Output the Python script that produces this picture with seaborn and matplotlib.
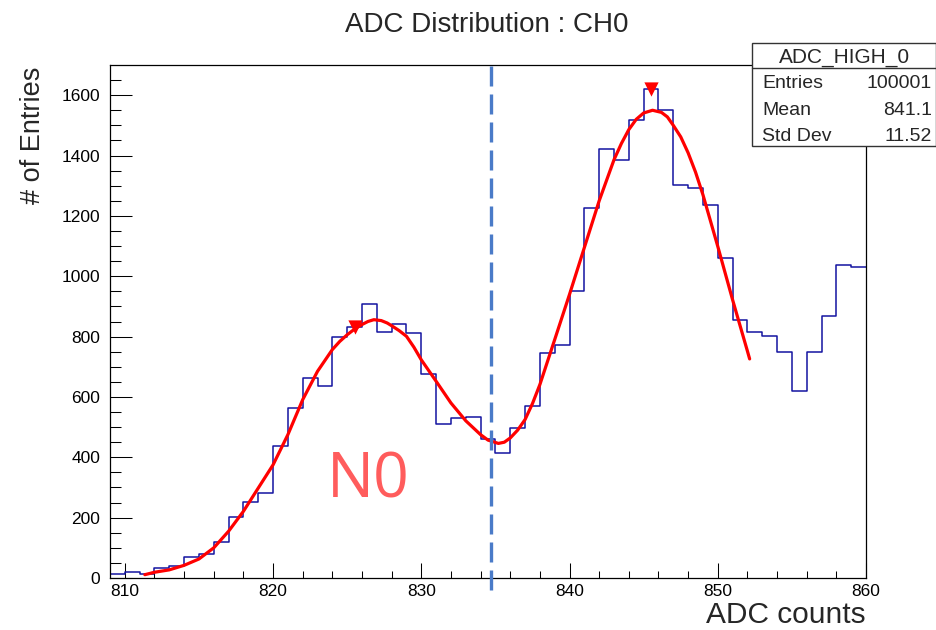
import numpy as np
import pandas as pd
import matplotlib
matplotlib.use("Agg")
import matplotlib.pyplot as plt
import seaborn as sns
from matplotlib.patches import Rectangle

# ---------------- data ----------------
bin_left = list(range(809, 860))
counts = [12, 20, 13, 32, 40, 71, 78, 118, 201, 253,
          282, 436, 565, 663, 636, 797, 831, 909, 815, 842,
          812, 675, 509, 531, 532, 461, 415, 498, 571, 744,
          771, 950, 1226, 1420, 1385, 1517, 1619, 1552, 1302, 1293,
          1237, 1062, 854, 815, 802, 749, 621, 749, 869, 1037,
          1030]

fit_x = [811.35, 812, 813, 814, 815, 816, 817, 818, 819, 820,
         821, 822, 823, 824, 824.5, 825, 825.5, 826, 826.4, 826.8,
         827.3, 827.7, 828, 828.5, 829, 829.5, 830, 831, 832, 833,
         834, 834.5, 835.2, 835.6, 836, 836.5, 837, 837.5, 838, 839,
         840, 841, 842, 843, 843.5, 844, 844.5, 845, 845.6, 846.2,
         846.6, 847, 847.5, 848, 848.5, 849, 850, 851, 852, 852.15]
fit_y = [11, 19, 27, 42, 63, 100, 155, 221, 298, 375,
         475, 591, 685, 757, 784, 806, 825, 840, 850, 856,
         853, 845, 836, 820, 801, 765, 723, 652, 580, 521,
         475, 457, 446, 450, 464, 490, 525, 578, 641, 790,
         940, 1095, 1250, 1386, 1440, 1486, 1520, 1541, 1550, 1543,
         1528, 1500, 1462, 1409, 1345, 1270, 1099, 922, 752, 726]

peak_x = [825.5, 845.5]
peak_y = [831, 1619]
cut_x = 834.7

title = "ADC Distribution : CH0"
xlabel = "ADC counts"
ylabel = "# of Entries"
region_label = "N0"
stats_name = "ADC_HIGH_0"
stats_rows = [("Entries", "100001"), ("Mean", "841.1"), ("Std Dev", "11.52")]

# ---------------- style ----------------
sns.set_style("white")
plt.rcParams['font.family'] = ['Liberation Sans', 'DejaVu Sans']

W, H = 937, 630
fig = plt.figure(figsize=(W / 100, H / 100), dpi=100)
L, R, T, B = 110, 866, 65, 578
ax = fig.add_axes([L / W, 1 - B / H, (R - L) / W, (B - T) / H])

df = pd.DataFrame({"adc": [b + 0.5 for b in bin_left], "n": counts})
edges = bin_left + [bin_left[-1] + 1]
sns.histplot(data=df, x="adc", weights="n", bins=edges, element="step",
             fill=False, color="#1414a0", linewidth=1.1, ax=ax)

sns.lineplot(x=fit_x, y=fit_y, color="#ff0000", linewidth=2.3, ax=ax,
             estimator=None, sort=False, zorder=4)
sns.scatterplot(x=peak_x, y=peak_y, marker="v", s=105, color="#ff0000",
                edgecolor="#ff0000", linewidth=0, ax=ax, zorder=6)

ax.plot([cut_x, cut_x], [-40, 1700], color="#4a7bc8", linewidth=2.4,
        linestyle=(0, (6, 2.4)), clip_on=False, zorder=5)

ax.text(823.6, 266, region_label, color="#ff5c5c", fontsize=45,
        family=["Open Sans", "DejaVu Sans"], ha="left", va="baseline")

ax.set_xlim(809, 860)
ax.set_ylim(0, 1700)
ax.set_xlabel("")
ax.set_ylabel("")
ax.set_xticks([810, 820, 830, 840, 850, 860])
ax.set_xticks(np.arange(810, 861, 2), minor=True)
ax.set_yticks(np.arange(0, 1601, 200))
ax.set_yticks(np.arange(0, 1700, 50), minor=True)
ax.tick_params(which="both", direction="in", bottom=True, left=True,
               top=False, right=False, width=0.75, colors="black",
               labelsize=12.5)
ax.tick_params(axis="y", which="major", length=15.8, pad=7)
ax.tick_params(axis="y", which="minor", length=7.9)
ax.tick_params(axis="x", which="major", length=10.8, pad=4)
ax.tick_params(axis="x", which="minor", length=5.4)
for sp in ax.spines.values():
    sp.set_visible(True)
    sp.set_color("black")
    sp.set_linewidth(0.9)

# titles
fig.text(487 / W, 1 - 32 / H, title, ha="center", va="baseline", fontsize=20)
fig.text(R / W, 1 - 623 / H, xlabel, ha="right", va="baseline", fontsize=21.5)
fig.text(33 / W, 1 - 67 / H, ylabel, ha="center", va="top", rotation=90,
         fontsize=19.5)

# stats box
bx0, by0, bx1, by1 = 752, 43, 936, 146
fig.patches.append(Rectangle((bx0 / W, 1 - by1 / H), (bx1 - bx0) / W,
                             (by1 - by0) / H, transform=fig.transFigure,
                             facecolor="white", edgecolor="#333333",
                             linewidth=1.0, zorder=5))
fig.add_artist(plt.Line2D([bx0 / W, bx1 / W], [1 - 68 / H, 1 - 68 / H],
                          transform=fig.transFigure, color="#333333",
                          linewidth=1.0, zorder=6))
fig.text(845 / W, 1 - 62.5 / H, stats_name, ha="center", va="baseline",
         fontsize=15, zorder=7)
for i, (k, v) in enumerate(stats_rows):
    yb = 88.5 + i * 26.3
    fig.text(762 / W, 1 - yb / H, k, ha="left", va="baseline", fontsize=14,
             zorder=7)
    fig.text(932 / W, 1 - yb / H, v, ha="right", va="baseline", fontsize=14,
             zorder=7)

fig.savefig("out.png", dpi=100)
